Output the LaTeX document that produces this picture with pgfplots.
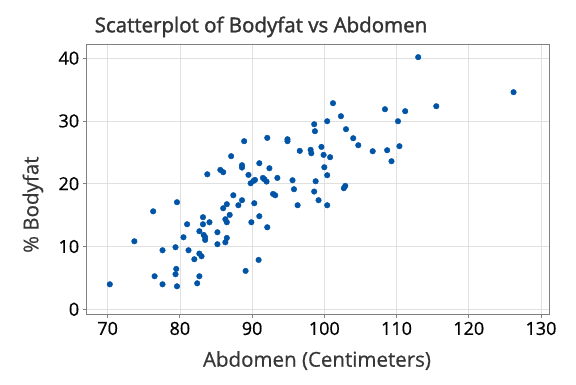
\documentclass[border=0pt]{standalone}
\usepackage{fontspec}
\setmainfont{Open Sans}
\newfontfamily\sbfont{Open Sans}[FakeBold=1.6]
\newfontfamily\mdfont{Open Sans}[FakeBold=0.6]
\usepackage{pgfplots}
\pgfplotsset{compat=1.18}
\definecolor{mtblue}{RGB}{0,84,166}
\definecolor{titlegray}{RGB}{51,51,51}
\definecolor{labelgray}{RGB}{55,55,55}
\begin{document}
\begin{tikzpicture}[x=1pt,y=1pt]
\useasboundingbox (0,0) rectangle (576,384);
\begin{axis}[
 at={(86.7pt,69.7pt)}, anchor=south west,
 scale only axis, width=462.6pt, height=270pt,
 xmin=67.1, xmax=131.15, ymin=-0.8, ymax=42.2,
 xtick={70,80,...,130}, ytick={0,10,...,40},
 grid=major, major grid style={color=black!12, line width=0.7pt},
 axis line style={color=black!50, line width=0.9pt},
 tick style={color=black!50, line width=0.8pt},
 tick align=outside, major tick length=4pt,
 xtick pos=bottom, ytick pos=left,
 tick label style={font=\mdfont\fontsize{18}{20}\selectfont, text=black},
 /pgf/number format/assume math mode=true,
 /pgf/number format/1000 sep={},
]
\addplot[only marks, mark=*, mark size=2.8pt, mark options={fill=mtblue, draw=mtblue}] coordinates {
(70.3,3.98) (73.7,10.83) (76.3,15.6) (76.5,5.26) (77.6,9.4) (77.6,3.98)
(79.4,9.88) (79.5,6.43) (79.4,5.58) (79.6,3.66) (79.6,17.05) (80.5,11.47)
(81.0,13.54) (81.2,9.4) (82.0,7.97) (82.4,4.14) (82.7,5.26) (82.7,12.43)
(82.7,8.87) (83.0,8.44) (83.2,14.66) (83.2,13.54) (83.3,11.84) (83.5,11.05)
(83.5,11.47) (83.8,21.5) (84.1,13.86) (85.2,12.27) (85.2,10.36) (85.6,22.2)
(86.0,21.83) (86.0,16.09) (86.3,14.34) (86.3,10.67) (86.5,16.73) (86.5,13.86)
(86.5,11.36) (86.9,15.03) (87.1,24.38) (87.4,18.16) (88.1,16.57) (88.6,17.37)
(88.6,22.57) (88.6,22.94) (88.9,26.77) (89.1,6.11) (89.5,21.4) (89.8,20.07)
(90.2,20.45) (90.4,20.6) (89.9,13.86) (90.3,16.89) (90.9,7.86) (91.0,14.82)
(91.0,23.26) (91.5,20.92) (91.7,20.71) (92.0,20.34) (92.1,13.06) (92.1,27.3)
(92.4,22.46) (92.9,18.37) (93.2,18.16) (93.5,20.92) (94.9,27.08) (94.9,26.77)
(95.6,20.55) (95.8,19.12) (96.3,16.57) (96.6,25.23) (98.1,25.4) (98.2,24.85)
(98.6,29.47) (98.7,28.36) (98.6,18.75) (98.8,20.39) (99.2,17.37) (99.6,25.86)
(99.9,24.59) (100.0,22.62) (100.4,29.95) (100.4,21.35) (100.4,16.57) (100.8,24.22)
(101.2,32.82) (102.3,30.75) (102.7,19.28) (102.9,19.65) (103.0,28.68) (104.0,27.24)
(104.7,26.13) (106.7,25.17) (108.4,31.86) (108.7,25.33) (109.3,23.58) (110.2,29.95)
(110.4,25.97) (111.2,31.55) (113.0,40.15) (115.5,32.34) (126.2,34.57)
};
\end{axis}
\node[anchor=base, font=\sbfont\fontsize{20.5}{24}\selectfont, text=titlegray] at (261,351.7) {Scatterplot of Bodyfat vs Abdomen};
\node[anchor=base, font=\mdfont\fontsize{20.5}{24}\selectfont, text=labelgray] at (317,17.3) {Abdomen (Centimeters)};
\node[anchor=base, rotate=90, font=\mdfont\fontsize{20.5}{24}\selectfont, text=labelgray] at (38.3,179.3) {\% Bodyfat};
\end{tikzpicture}
\end{document}
